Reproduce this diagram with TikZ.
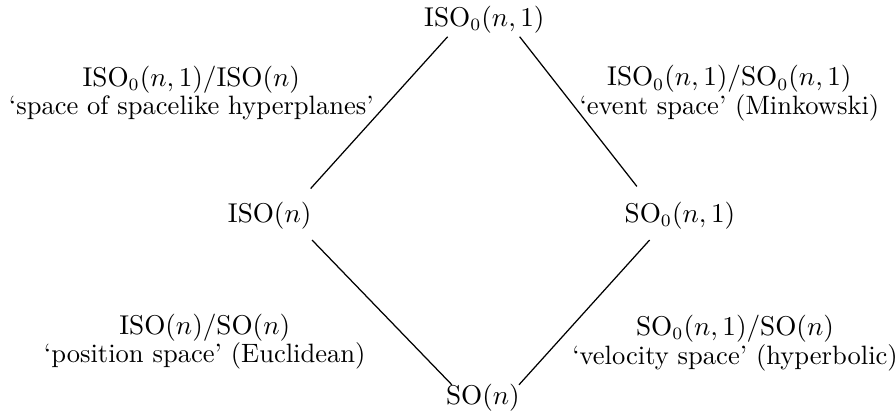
\documentclass[tikz,border=0pt]{standalone}
\usepackage{amsmath}
\usetikzlibrary{positioning}
\newcommand{\grISO}{\mathrm{ISO}}
\newcommand{\grSO}{\mathrm{SO}}

\begin{document}
\begin{tikzpicture}[
  every node/.style={font=\fontsize{10.7}{11.4}\selectfont},
  grp/.style={inner sep=4pt},
  quot/.style={align=center},
  every path/.style={line width=0.5pt}
]
\useasboundingbox (0,0) rectangle (12.69,5.85);
% Diamond of groups
\node[grp] (top) at (6.86, 5.57) {$\grISO_0(n,1)$};
\node[grp] (left) at (3.82, 2.80) {$\grISO(n)$};
\node[grp] (right) at (9.63, 2.80) {$\grSO_0(n,1)$};
\node[grp] (bot) at (6.84, 0.22) {$\grSO(n)$};
% Edges
\draw ([shift={(-0.52,-0.24)}]top.center) -- ([shift={(0.58,0.38)}]left.center);
\draw ([shift={(0.50,-0.24)}]top.center) -- ([shift={(-0.61,0.41)}]right.center);
\draw ([shift={(0.60,-0.35)}]left.center) -- ([shift={(-0.44,0.18)}]bot.center);
\draw ([shift={(-0.43,-0.35)}]right.center) -- ([shift={(0.51,0.18)}]bot.center);
% Homogeneous spaces
\node[quot] (tl) at (2.71, 4.53) {$\grISO_0(n,1)/\grISO(n)$\\`space of spacelike hyperplanes'};
\node[quot] (tr) at (10.33, 4.53) {$\grISO_0(n,1)/\grSO_0(n,1)$\\`event space' (Minkowski)};
\node[quot] (bl) at (2.90, 1.01) {$\grISO(n)/\grSO(n)$\\`position space' (Euclidean)};
\node[quot] (br) at (10.41, 0.99) {$\grSO_0(n,1)/\grSO(n)$\\`velocity space' (hyperbolic)};
\end{tikzpicture}
\end{document}
